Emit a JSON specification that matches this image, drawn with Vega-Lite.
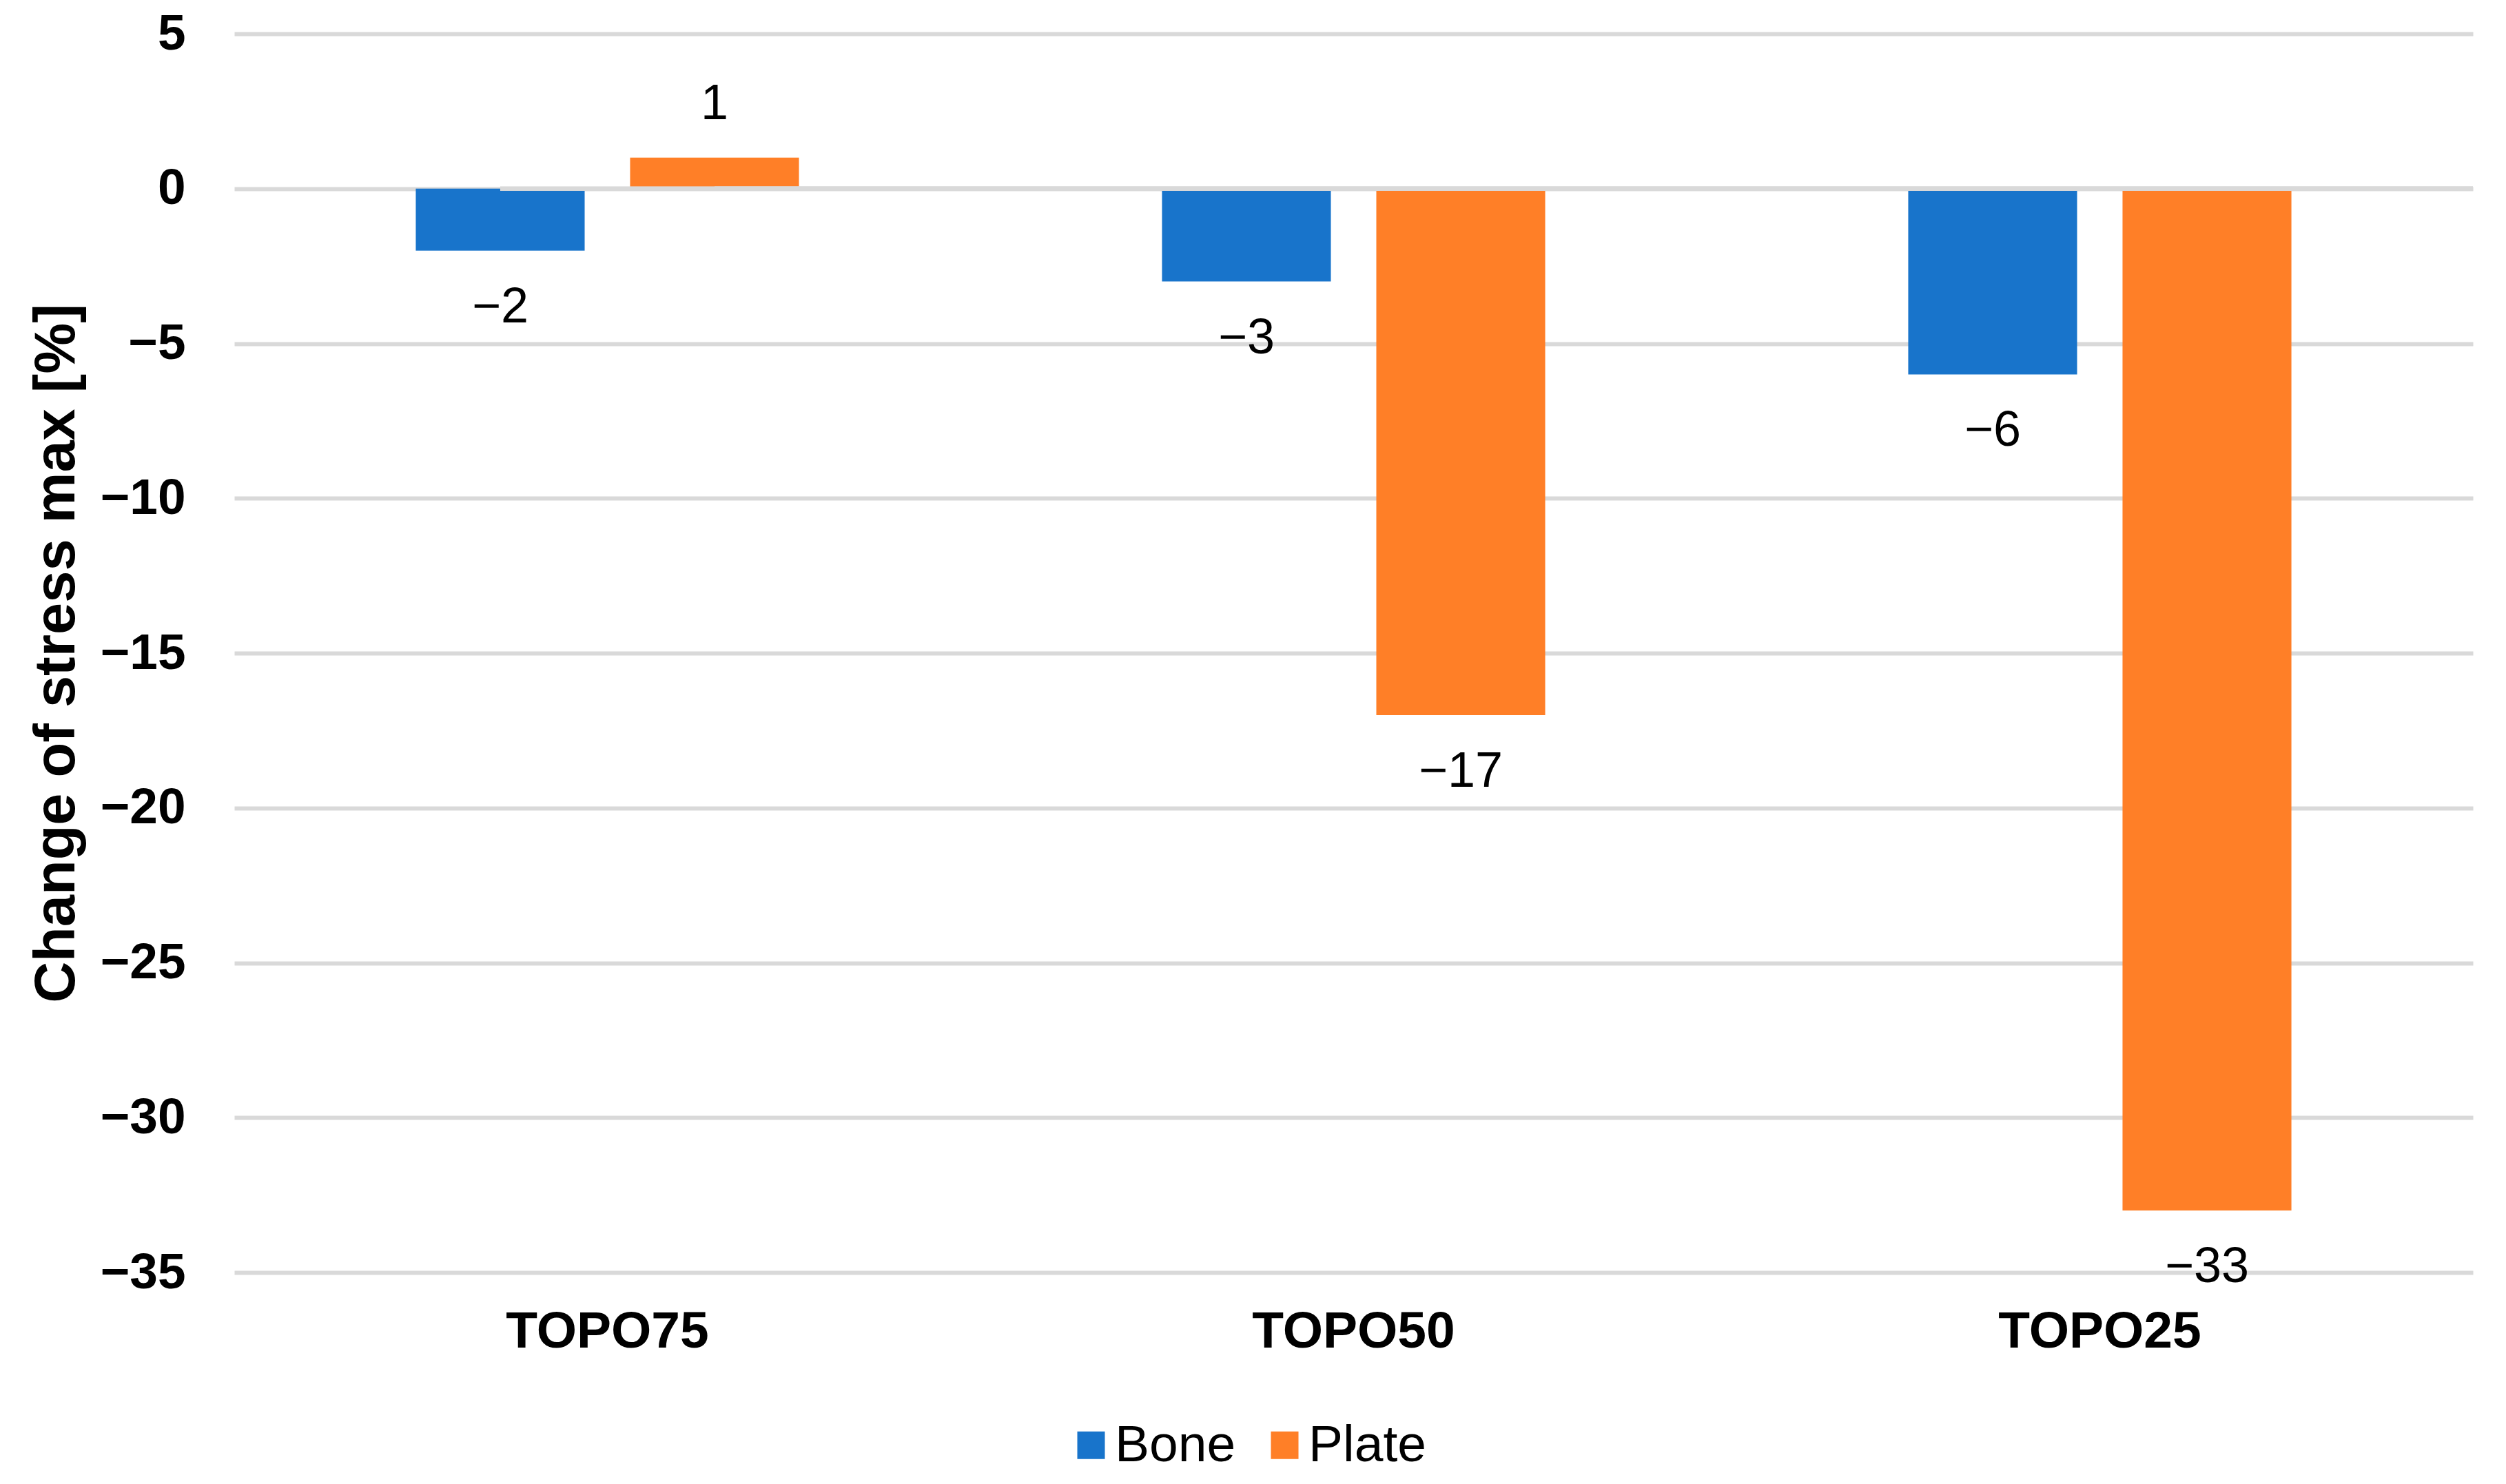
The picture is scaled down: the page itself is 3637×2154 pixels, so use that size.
{
  "$schema": "https://vega.github.io/schema/vega-lite/v6.json",
  "autosize": "none",
  "width": 3249,
  "height": 1798,
  "padding": {"left": 340, "top": 49, "right": 48, "bottom": 307},
  "background": "white",
  "config": {
    "font": "Liberation Sans",
    "view": {"stroke": null}
  },
  "data": {
    "values": [
      {"group": "TOPO75", "series": "Bone", "value": -2},
      {"group": "TOPO75", "series": "Plate", "value": 1},
      {"group": "TOPO50", "series": "Bone", "value": -3},
      {"group": "TOPO50", "series": "Plate", "value": -17},
      {"group": "TOPO25", "series": "Bone", "value": -6},
      {"group": "TOPO25", "series": "Plate", "value": -33}
    ]
  },
  "encoding": {
    "x": {
      "field": "group",
      "type": "nominal",
      "sort": ["TOPO75", "TOPO50", "TOPO25"],
      "scale": {"paddingInner": 0, "paddingOuter": 0},
      "axis": {
        "title": null,
        "labelAngle": 0,
        "domain": false,
        "ticks": false,
        "tickSize": 0,
        "labelLimit": 0,
        "labelFont": "Liberation Sans",
        "labelFontSize": 75,
        "labelFontWeight": "bold",
        "labelColor": "black",
        "labelPadding": 49
      }
    },
    "xOffset": {
      "field": "series",
      "type": "nominal",
      "sort": ["Bone", "Plate"],
      "scale": {"paddingInner": 0.212, "paddingOuter": 0.847}
    }
  },
  "layer": [
    {
      "mark": {"type": "bar"},
      "encoding": {
        "y": {
          "field": "value",
          "type": "quantitative",
          "scale": {"domain": [-35, 5], "nice": false},
          "axis": {
            "title": "Change of stress max [%]",
            "titleFont": "Liberation Sans",
            "titleFontSize": 83,
            "titleFontWeight": "bold",
            "titleColor": "black",
            "titlePadding": 21,
            "values": [-35, -30, -25, -20, -15, -10, -5, 0, 5],
            "domain": false,
            "ticks": false,
            "tickSize": 0,
            "grid": true,
            "gridColor": "#d9d9d9",
            "gridWidth": 6,
            "labelFont": "Liberation Sans",
            "labelFontSize": 73,
            "labelFontWeight": "bold",
            "labelColor": "black",
            "labelPadding": 71
          }
        },
        "color": {
          "field": "series",
          "type": "nominal",
          "sort": ["Bone", "Plate"],
          "scale": {"domain": ["Bone", "Plate"], "range": ["#1874CB", "#FF7F27"]},
          "legend": {
            "title": null,
            "orient": "none",
            "direction": "horizontal",
            "legendX": 1206,
            "legendY": 2011,
            "symbolType": "square",
            "symbolSize": 1600,
            "symbolStrokeWidth": 0,
            "labelLimit": 0,
            "labelFont": "Liberation Sans",
            "labelFontSize": 75,
            "labelColor": "black",
            "labelOffset": -3,
            "columnPadding": 33
          }
        }
      }
    },
    {
      "mark": {"type": "rule", "color": "#d9d9d9", "strokeWidth": 6},
      "encoding": {"y": {"datum": 0}, "x": {"value": 0}, "x2": {"value": 3249}}
    },
    {
      "transform": [{"filter": "datum.value < 0"}],
      "mark": {"type": "text", "baseline": "middle", "dy": 82, "fontSize": 72, "color": "black"},
      "encoding": {
        "y": {"field": "value", "type": "quantitative"},
        "text": {"field": "value", "type": "quantitative"}
      }
    },
    {
      "transform": [{"filter": "datum.value >= 0"}],
      "mark": {"type": "text", "baseline": "middle", "dy": -78, "fontSize": 72, "color": "black"},
      "encoding": {
        "y": {"field": "value", "type": "quantitative"},
        "text": {"field": "value", "type": "quantitative"}
      }
    }
  ]
}
